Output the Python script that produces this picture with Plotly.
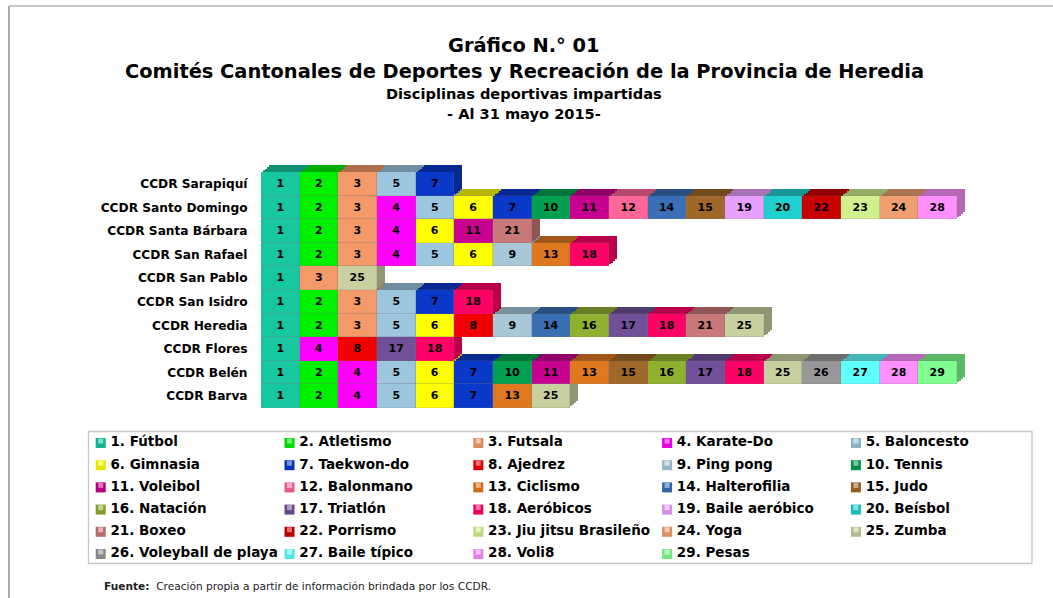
import plotly.graph_objects as go

W, H = 1053, 598
FONT = "DejaVu Sans"

centers = ["CCDR Sarapiquí", "CCDR Santo Domingo", "CCDR Santa Bárbara", "CCDR San Rafael",
           "CCDR San Pablo", "CCDR San Isidro", "CCDR Heredia", "CCDR Flores", "CCDR Belén", "CCDR Barva"]
disciplines_by_center = [
    [1, 2, 3, 5, 7],
    [1, 2, 3, 4, 5, 6, 7, 10, 11, 12, 14, 15, 19, 20, 22, 23, 24, 28],
    [1, 2, 3, 4, 6, 11, 21],
    [1, 2, 3, 4, 5, 6, 9, 13, 18],
    [1, 3, 25],
    [1, 2, 3, 5, 7, 18],
    [1, 2, 3, 5, 6, 8, 9, 14, 16, 17, 18, 21, 25],
    [1, 4, 8, 17, 18],
    [1, 2, 4, 5, 6, 7, 10, 11, 13, 15, 16, 17, 18, 25, 26, 27, 28, 29],
    [1, 2, 4, 5, 6, 7, 13, 25],
]
names = ["Fútbol", "Atletismo", "Futsala", "Karate-Do", "Baloncesto", "Gimnasia", "Taekwon-do", "Ajedrez",
         "Ping pong", "Tennis", "Voleibol", "Balonmano", "Ciclismo", "Halterofilia", "Judo", "Natación",
         "Triatlón", "Aeróbicos", "Baile aeróbico", "Beísbol", "Boxeo", "Porrismo", "Jiu jitsu Brasileño",
         "Yoga", "Zumba", "Voleyball de playa", "Baile típico", "Voli8", "Pesas"]
colors = ["#17c79f", "#00f000", "#f4996a", "#ff00ff", "#9cc6de", "#ffff00", "#0a38c8", "#f00000", "#a8c8d8",
          "#00a050", "#c80090", "#ff6699", "#e07820", "#3a6fb5", "#a06828", "#90b030", "#705098", "#ff0066",
          "#e8a0ff", "#20d0d0", "#c87878", "#c80000", "#d0f090", "#f0a070", "#c8d0a0", "#989898", "#60ffff",
          "#ff90ff", "#80ff90"]
max_segments = 18


def shade(c, f):
    r, g, b = int(c[1:3], 16), int(c[3:5], 16), int(c[5:7], 16)
    if f <= 1:
        return f"rgb({int(r*f)},{int(g*f)},{int(b*f)})"
    t = f - 1
    return f"rgb({int(r+(255-r)*t)},{int(g+(255-g)*t)},{int(b+(255-b)*t)})"


px = lambda x: x / W
py = lambda y: 1 - y / H

X0, X1 = 261, 957
Y0, Y1 = 172, 408
DX, DY = 8, 7
LAYERS = 5  # farthest first, last one is the front face

hidden = dict(showgrid=False, zeroline=False, showticklabels=False, ticks="", showline=False)
fig = go.Figure()
layout_axes = {}
for k in range(LAYERS):
    t = (LAYERS - 1 - k) / (LAYERS - 1)
    ox, oy = DX * t, DY * t
    sx = "" if k == 0 else str(k + 1)
    front = k == LAYERS - 1
    for i, name in enumerate(names):
        n = i + 1
        vals = [1 if n in d else None for d in disciplines_by_center]
        kw = dict(y=centers, x=vals, orientation="h", showlegend=False, xaxis=f"x{sx}", yaxis=f"y{sx}")
        if front:
            fig.add_trace(go.Bar(name=f"{n}. {name}",
                                 marker=dict(color=colors[i], line=dict(width=0.5, color="rgba(120,120,120,0.35)")),
                                 text=[str(n) if v else None for v in vals], textposition="inside",
                                 insidetextanchor="middle", constraintext="none", textangle=0,
                                 textfont=dict(family=FONT, size=11, color="#000000", weight="bold"), **kw))
        else:
            fig.add_trace(go.Bar(marker=dict(color=shade(colors[i], 0.72), line_width=0), hoverinfo="skip", **kw))
    layout_axes[f"xaxis{sx}"] = dict(domain=[px(X0 + ox), px(X1 + ox)], range=[0, max_segments],
                                     anchor=f"y{sx}", **hidden)
    yax = dict(domain=[py(Y1 - oy), py(Y0 - oy)], categoryorder="array", categoryarray=centers[::-1],
               anchor=f"x{sx}", showgrid=False, zeroline=False, showline=False)
    if front:
        yax.update(ticks="outside", ticklen=10, tickcolor="white",
                   tickfont=dict(family=FONT, size=12.2, color="#000000", weight="bold"))
    else:
        yax.update(showticklabels=False, ticks="")
    layout_axes[f"yaxis{sx}"] = yax

# legend drawn on a full-page axis pair
COLS = 5
col_x = [100.7 + 188.8 * (i % COLS) for i in range(len(names))]
row_y = [443 + 22.2 * (i // COLS) for i in range(len(names))]
LEG = str(LAYERS + 1)
fig.add_trace(go.Scatter(x=col_x, y=row_y, mode="markers+text", xaxis=f"x{LEG}", yaxis=f"y{LEG}", showlegend=False,
                         marker=dict(symbol="square", size=14, color="rgba(0,0,0,0)", line_width=0),
                         text=[f"{i+1}. {n}" for i, n in enumerate(names)], textposition="middle right",
                         textfont=dict(family=FONT, size=13.5, color="#000000", weight="bold"), cliponaxis=False))
fig.add_trace(go.Scatter(x=col_x, y=row_y, mode="markers", xaxis=f"x{LEG}", yaxis=f"y{LEG}",
                         showlegend=False, hoverinfo="skip",
                         marker=dict(symbol="square", size=10, color=[shade(c, 0.9) for c in colors], line_width=0)))
fig.add_trace(go.Scatter(x=col_x, y=[y - 2 for y in row_y], mode="markers", xaxis=f"x{LEG}", yaxis=f"y{LEG}",
                         showlegend=False, hoverinfo="skip",
                         marker=dict(symbol="square", size=5, color=[shade(c, 1.45) for c in colors], line_width=0)))
layout_axes[f"xaxis{LEG}"] = dict(domain=[0, 1], range=[0, W], anchor=f"y{LEG}", **hidden)
layout_axes[f"yaxis{LEG}"] = dict(domain=[0, 1], range=[H, 0], anchor=f"x{LEG}", **hidden)

fig.update_layout(
    width=W, height=H, barmode="stack", bargap=0,
    paper_bgcolor="white", plot_bgcolor="rgba(0,0,0,0)",
    margin=dict(l=0, r=0, t=0, b=0, autoexpand=False),
    font=dict(family=FONT, color="#000000"),
    showlegend=False,
    shapes=[
        dict(type="line", xref="paper", yref="paper", x0=px(9), x1=px(1053), y0=py(6), y1=py(6),
             line=dict(color="#8c8c8c", width=1)),
        dict(type="line", xref="paper", yref="paper", x0=px(9), x1=px(9), y0=py(6), y1=py(598),
             line=dict(color="#aaaaaa", width=2)),
        dict(type="rect", xref="paper", yref="paper", x0=px(88.5), x1=px(1032), y0=py(431.5), y1=py(563.5),
             line=dict(color="#c8c8c8", width=1.3)),
    ],
    **layout_axes,
)

titles = [("Gráfico N.° 01", 45, 19.4), ("Comités Cantonales de Deportes y Recreación de la Provincia de Heredia", 71, 19.4),
          ("Disciplinas deportivas impartidas", 93, 14.6), ("- Al 31 mayo 2015-", 114, 14.6)]
for text, y, size in titles:
    fig.add_annotation(text=f"<b>{text}</b>", xref="paper", yref="paper", x=px(524), y=py(y), showarrow=False,
                       xanchor="center", yanchor="middle", font=dict(family=FONT, size=size, color="#000000"))
fig.add_annotation(text="<b>Fuente:</b>  Creación propia a partir de información brindada por los CCDR.",
                   xref="paper", yref="paper", x=px(102), y=py(586), showarrow=False, xanchor="left", yanchor="middle",
                   font=dict(family=FONT, size=10.6, color="#222222"))

fig.write_html("out.html", config={"displayModeBar": False}, post_script="document.body.style.margin='0';")
